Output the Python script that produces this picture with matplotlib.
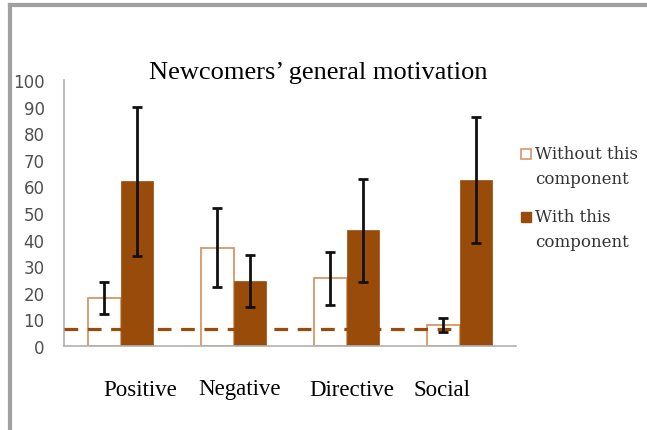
import numpy as np
import matplotlib
matplotlib.use("Agg")
import matplotlib.pyplot as plt
from matplotlib.patches import Rectangle
from matplotlib.lines import Line2D

# data
categories = ["Positive", "Negative", "Directive", "Social"]
without_vals = [18, 37, 25.5, 8]
without_err = [6, 15, 10, 2.6]
with_vals = [62, 24.5, 43.5, 62.5]
with_err = [28, 9.7, 19.3, 23.7]
baseline = 6.3
yticks = [0, 10, 20, 30, 40, 50, 60, 70, 80, 90, 100]

brown = "#994C09"
tan = "#D4976A"

W, H = 647, 431
fig = plt.figure(figsize=(W / 100, H / 100), dpi=100)
ax = fig.add_axes([64 / W, 1 - 347 / H, 452 / W, 266 / H])

x = np.arange(len(categories))
bw = 0.29
ax.bar(x - bw / 2, without_vals, bw, color="white", edgecolor=tan, linewidth=1.3, zorder=2)
ax.bar(x + bw / 2, with_vals, bw, color=brown, edgecolor=brown, linewidth=0.5, zorder=2)
ax.errorbar(x - bw / 2, without_vals, yerr=without_err, fmt="none", ecolor="#111111",
            elinewidth=2, capsize=3.5, capthick=2, zorder=4)
ax.errorbar(x + bw / 2, with_vals, yerr=with_err, fmt="none", ecolor="#111111",
            elinewidth=2, capsize=3.5, capthick=2, zorder=4)
# dashed reference line stops at the last bar
ax.hlines(baseline, -0.5, x[-1] + bw / 2, color=brown, linewidth=2.3,
          linestyles=(0, (4.3, 3)), zorder=3)

ax.set_xlim(-0.5, 3.5)
ax.set_ylim(0, 100)
ax.set_yticks(yticks)
ax.set_xticks([])
ax.tick_params(length=0, labelsize=12, labelcolor="#505050")
ax.tick_params(axis="y", pad=14)
for s in ["top", "right"]:
    ax.spines[s].set_visible(False)
for s in ["left", "bottom"]:
    ax.spines[s].set_color("#b0b0b0")
    ax.spines[s].set_linewidth(1.2)

# outer frame
fig.add_artist(Line2D([10 / W, 1], [1 - 6 / H, 1 - 6 / H], color="#a0a0a0", linewidth=3))
fig.add_artist(Line2D([10 / W, 10 / W], [0, 1 - 6 / H], color="#a0a0a0", linewidth=3))

serif = ["Liberation Serif", "DejaVu Serif"]
fig.text(318 / W, 1 - 73 / H, "Newcomers\u2019 general motivation", ha="center", va="center",
         fontsize=19, family=serif, zorder=3)
label_x = [140, 240, 352, 442]
for lx, c in zip(label_x, categories):
    fig.text(lx / W, 1 - 390 / H, c, ha="center", va="center", fontsize=16.5,
             family=serif, zorder=3)

# legend
fig.patches.append(Rectangle((521 / W, 1 - 160 / H), 10 / W, 10 / H, transform=fig.transFigure,
                             facecolor="white", edgecolor=tan, linewidth=1.2, zorder=3))
fig.patches.append(Rectangle((521 / W, 1 - 223 / H), 10 / W, 10 / H, transform=fig.transFigure,
                             facecolor=brown, edgecolor=brown, linewidth=1, zorder=3))
legend_lines = [("Without this", 155), ("component", 179), ("With this", 218), ("component", 243)]
for txt, ly in legend_lines:
    fig.text(535 / W, 1 - ly / H, txt, ha="left", va="center", fontsize=12,
             family="DejaVu Serif", color="#333333", zorder=3)

fig.savefig("out.png", dpi=100)
